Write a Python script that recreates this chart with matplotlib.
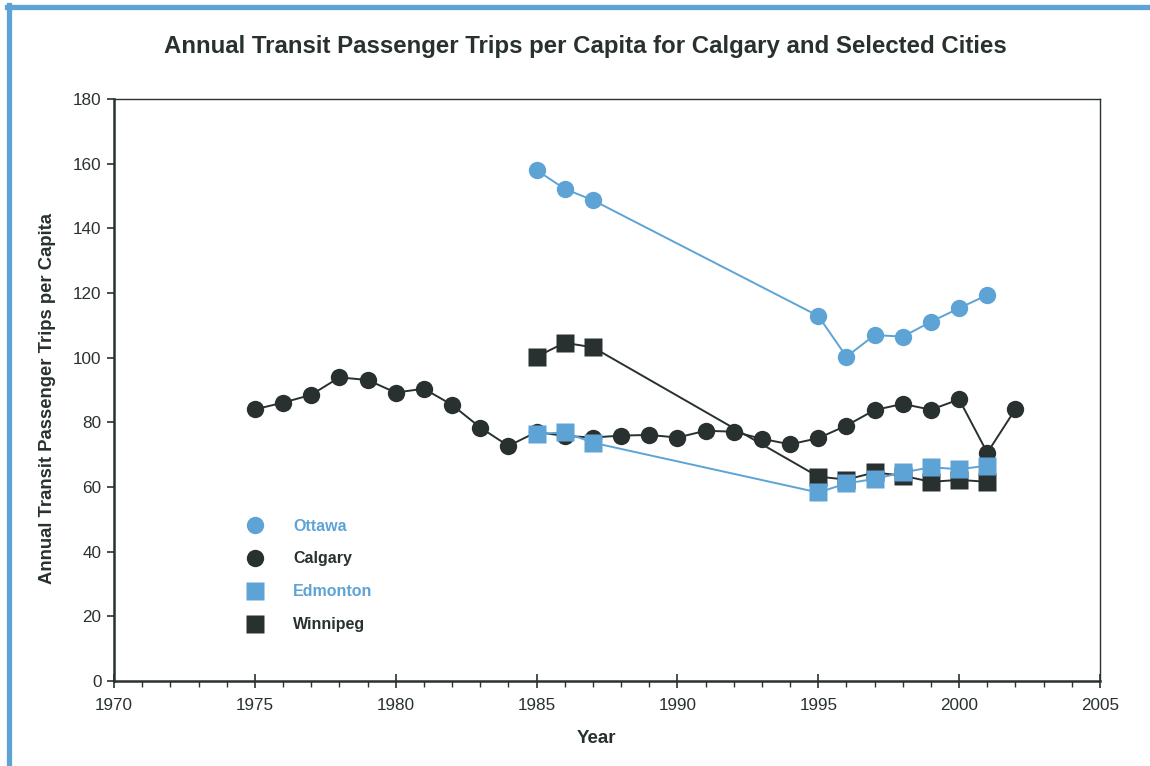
import matplotlib
matplotlib.use("Agg")
import matplotlib.pyplot as plt
from matplotlib.ticker import MultipleLocator
from matplotlib.lines import Line2D

plt.rcParams['font.family'] = ['Liberation Sans', 'DejaVu Sans']

BLUE = '#5ea3d5'
DARK = '#293130'

# data
calgary_years = list(range(1975, 2003))
calgary = [84.0, 86.1, 88.5, 93.9, 93.1, 89.2, 90.4, 85.4, 78.4, 72.7,
           77.0, 75.8, 75.3, 75.9, 76.1, 75.3, 77.4, 77.1, 74.9, 73.2,
           75.1, 79.0, 83.8, 85.7, 83.9, 87.1, 70.6, 84.1]

other_years = [1985, 1986, 1987, 1995, 1996, 1997, 1998, 1999, 2000, 2001]
ottawa = [158.0, 152.2, 148.7, 112.9, 100.3, 107.0, 106.5, 111.1, 115.3, 119.4]
edmonton = [76.4, 76.9, 73.7, 58.3, 61.1, 62.5, 64.5, 66.1, 65.5, 66.6]
winnipeg = [100.3, 104.6, 103.2, 63.2, 62.3, 64.5, 63.5, 61.6, 62.2, 61.6]

legend_names = ['Ottawa', 'Calgary', 'Edmonton', 'Winnipeg']

fig = plt.figure(figsize=(11.5, 7.66), dpi=100)
ax = fig.add_axes([114 / 1150, 1 - 681 / 766, 986 / 1150, 582 / 766])

ms = 12.5
ax.plot(other_years, ottawa, color=BLUE, lw=1.4, marker='o', ms=ms, mec='none', zorder=3)
ax.plot(calgary_years, calgary, color=DARK, lw=1.4, marker='o', ms=ms, mec='none', zorder=4)
ax.plot(other_years, winnipeg, color=DARK, lw=1.4, marker='s', ms=ms, mec='none', zorder=5)
ax.plot(other_years, edmonton, color=BLUE, lw=1.4, marker='s', ms=ms, mec='none', zorder=6)

ax.set_xlim(1970, 2005)
ax.set_ylim(0, 180)
ax.xaxis.set_major_locator(MultipleLocator(5))
ax.xaxis.set_minor_locator(MultipleLocator(1))
ax.yaxis.set_major_locator(MultipleLocator(20))
ax.tick_params(axis='x', which='major', direction='inout', length=10, width=1.2,
               labelsize=12.3, colors=DARK, pad=7)
ax.tick_params(axis='x', which='minor', direction='out', length=4, width=1, colors=DARK)
ax.tick_params(axis='y', which='major', direction='out', length=5, width=1.2,
               labelsize=12.3, colors=DARK, pad=4)
for side in ['left', 'bottom']:
    ax.spines[side].set_linewidth(1.8)
    ax.spines[side].set_color(DARK)
for side in ['top', 'right']:
    ax.spines[side].set_linewidth(1.0)
    ax.spines[side].set_color(DARK)

ax.set_xlabel('Year', fontsize=13.5, fontweight='bold', color=DARK)
ax.xaxis.set_label_coords((596 - 114) / 986, -(730 - 681) / 582)
ax.set_ylabel('Annual Transit Passenger Trips per Capita', fontsize=13.3,
              fontweight='bold', color=DARK)
ax.yaxis.set_label_coords(-(114 - 56) / 986, (681 - 399) / 582)
fig.text(585 / 1150, 1 - 47 / 766,
         'Annual Transit Passenger Trips per Capita for Calgary and Selected Cities',
         ha='center', va='center', fontsize=17.3, fontweight='bold', color=DARK)

# legend
handles = [
    Line2D([], [], ls='none', marker='o', ms=ms, color=BLUE, mec='none'),
    Line2D([], [], ls='none', marker='o', ms=ms, color=DARK, mec='none'),
    Line2D([], [], ls='none', marker='s', ms=ms, color=BLUE, mec='none'),
    Line2D([], [], ls='none', marker='s', ms=ms, color=DARK, mec='none'),
]
leg = ax.legend(handles, legend_names, loc='upper left', bbox_to_anchor=(0.12, 0.29),
                frameon=False, fontsize=11.5, labelspacing=1.12, handletextpad=1.4,
                borderaxespad=0)
for txt, col in zip(leg.get_texts(), [BLUE, DARK, BLUE, DARK]):
    txt.set_color(col)
    txt.set_fontweight('bold')

# blue page frame on the top and left
fig.add_artist(Line2D([7 / 1150, 1], [1 - 6.5 / 766, 1 - 6.5 / 766], color=BLUE, lw=3.8,
                      transform=fig.transFigure))
fig.add_artist(Line2D([9 / 1150, 9 / 1150], [0, 1 - 5 / 766], color=BLUE, lw=3.8,
                      transform=fig.transFigure))

fig.savefig('out.png', dpi=100)
